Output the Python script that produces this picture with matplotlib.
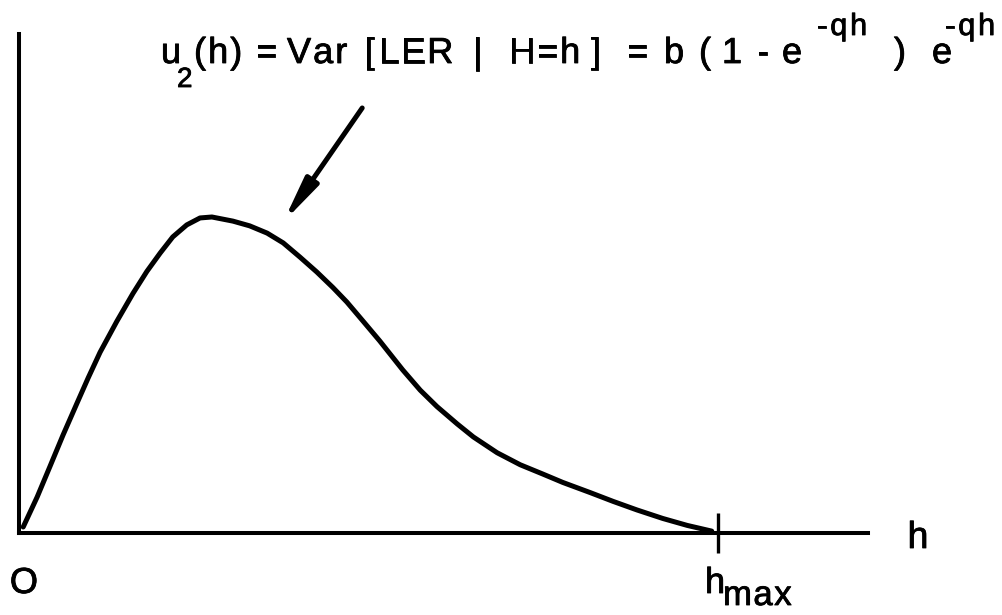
import matplotlib
matplotlib.use("Agg")
import matplotlib.pyplot as plt
import matplotlib.patheffects as pe

plt.rcParams['font.family'] = ['Liberation Sans', 'DejaVu Sans']

# curve u2(h), h scaled so that h_max = 1, u scaled so that the peak = 1
h_vals = [0.006, 0.026, 0.044, 0.063, 0.083, 0.099, 0.116, 0.140, 0.163, 0.183,
          0.202, 0.220, 0.240, 0.259, 0.276, 0.306, 0.330, 0.355, 0.378, 0.402,
          0.426, 0.449, 0.469, 0.492, 0.516, 0.549, 0.574, 0.598, 0.627, 0.650,
          0.684, 0.717, 0.750, 0.778, 0.817, 0.850, 0.884, 0.921, 0.956, 0.991]
u_vals = [0.019, 0.114, 0.209, 0.310, 0.411, 0.491, 0.572, 0.670, 0.758, 0.828,
          0.886, 0.937, 0.975, 0.997, 1.000, 0.987, 0.972, 0.949, 0.918, 0.873,
          0.826, 0.777, 0.731, 0.671, 0.608, 0.516, 0.452, 0.400, 0.345, 0.304,
          0.254, 0.216, 0.186, 0.160, 0.128, 0.100, 0.073, 0.046, 0.024, 0.006]
h_max = 1.0

# formula pieces: (text, left x in px, kind)
formula = [
    ("u", 162, "main"), ("2", 178, "sub"), ("(h)", 195, "main"), ("=", 257, "main"),
    ("Var", 288, "main"), ("[", 365, "main"), ("LER", 380, "main"), ("|", 474, "main"),
    ("H=h", 510, "main"), ("]", 592, "main"), ("=", 628, "main"), ("b", 665, "main"),
    ("(", 700, "main"), ("1", 723, "main"), ("-", 758, "main"), ("e", 783, "main"),
    ("-qh", 818, "sup"), (")", 895, "main"), ("e", 933, "main"), ("-qh", 946, "sup"),
]

W, H = 1003, 615
fig = plt.figure(figsize=(W / 100, H / 100), dpi=100)
renderer = fig.canvas.get_renderer()
heavy = [pe.withStroke(linewidth=0.6, foreground="black")]


def fx(x):
    return x / W


def fy(y):
    return 1 - y / H


def spaced_text(x, y, s, size, gap):
    # one glyph at a time, so the letters sit apart like the typed formula
    for ch in s:
        t = fig.text(fx(x), fy(y), ch, fontsize=size, ha="left", va="baseline",
                     path_effects=heavy)
        x += t.get_window_extent(renderer).width + gap


x0, y0, x1, y1 = 19, 533, 868, 34
ax = fig.add_axes([fx(x0), fy(y0), (x1 - x0) / W, (y0 - y1) / H])
px_per_h = 699
px_per_u = 316
ax.set_xlim(0, (x1 - x0) / px_per_h)
ax.set_ylim(0, (y0 - y1) / px_per_u)
ax.patch.set_visible(False)

for side in ("top", "right"):
    ax.spines[side].set_visible(False)
for side in ("left", "bottom"):
    ax.spines[side].set_linewidth(2.9)

ax.set_yticks([])
ax.set_xticks([h_max])
ax.set_xticklabels([])
ax.tick_params(axis="x", direction="inout", length=29, width=2.4, color="black")

ax.plot(h_vals, u_vals, color="black", lw=3.6, solid_capstyle="round",
        solid_joinstyle="round")

# arrow pointing at the curve
ax.annotate("", xy=(0.378, 0.984), xytext=(0.491, 1.345),
            arrowprops=dict(arrowstyle="-|>,head_length=1.3,head_width=0.22",
                            lw=3.6, color="black", shrinkA=0, shrinkB=0,
                            mutation_scale=20), annotation_clip=False)

# formula text
sizes = {"main": 26, "sub": 20, "sup": 22}
baselines = {"main": 63, "sub": 87, "sup": 35}
gaps = {"main": 2.0, "sub": 2, "sup": 3.0}
for txt, x, kind in formula:
    spaced_text(x - 1, baselines[kind], txt, sizes[kind], gaps[kind])

# axis labels
fig.text(fx(24), fy(593), "O", fontsize=26, ha="center", va="baseline",
         path_effects=heavy)
fig.text(fx(918), fy(548), "h", fontsize=27, ha="center", va="baseline",
         path_effects=heavy)
spaced_text(705, 593, "h", 26, 2)
spaced_text(723, 605, "max", 25, 1.5)

fig.savefig("out.png", dpi=100)
